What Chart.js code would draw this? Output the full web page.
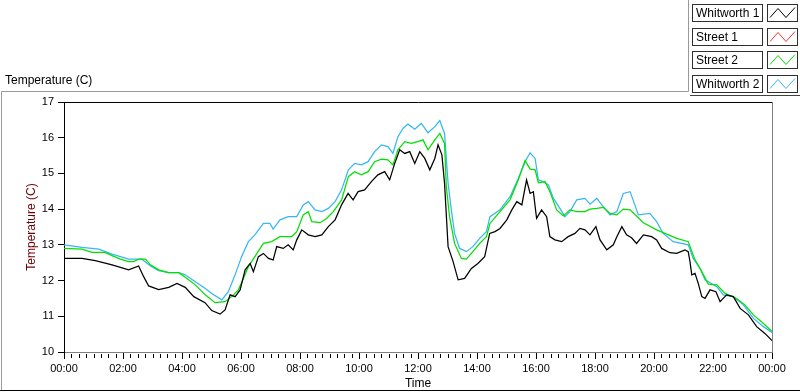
<!DOCTYPE html>
<html>
<head>
<meta charset="utf-8">
<title>Temperature (C)</title>
<script src="https://cdn.jsdelivr.net/npm/chart.js@4"></script>
<style>
  html, body { margin: 0; padding: 0; background: #fff; }
  canvas { display: block; }
</style>
</head>
<body>
<canvas id="tempChart" width="800" height="392"></canvas>
<script>
// hours since midnight and temperature (C) for each trace
const w1Hours = [0, 0.61, 1.06, 1.63, 2.19, 2.53, 2.70, 2.87, 3.21, 3.55, 3.83, 4.11, 4.40, 4.78, 5.01, 5.29, 5.46, 5.63, 5.80, 5.97,
  6.14, 6.31, 6.42, 6.59, 6.76, 6.93, 7.09, 7.21, 7.43, 7.60, 7.77, 7.89, 8.06, 8.28, 8.51, 8.74, 8.96, 9.19, 9.41, 9.63,
  9.80, 9.97, 10.19, 10.42, 10.64, 10.87, 11.04, 11.21, 11.38, 11.55, 11.72, 11.89, 12.06, 12.23, 12.40, 12.57, 12.68, 12.81, 12.90, 13.02,
  13.19, 13.36, 13.58, 13.81, 14.03, 14.26, 14.43, 14.61, 14.78, 15.01, 15.18, 15.35, 15.52, 15.68, 15.80, 15.91, 16.02, 16.19, 16.36, 16.47,
  16.64, 16.87, 17.09, 17.32, 17.49, 17.66, 17.83, 18.03, 18.17, 18.40, 18.62, 18.74, 18.91, 19.07, 19.24, 19.41, 19.64, 19.92, 20.09, 20.26,
  20.54, 20.77, 21.05, 21.16, 21.22, 21.28, 21.39, 21.50, 21.62, 21.73, 21.90, 22.10, 22.24, 22.46, 22.69, 22.92, 23.20, 23.48, 23.76, 24];
const w1Temps = [12.62, 12.62, 12.56, 12.44, 12.30, 12.41, 12.11, 11.85, 11.75, 11.81, 11.92, 11.81, 11.55, 11.38, 11.16, 11.06, 11.18, 11.60, 11.55, 11.74,
  12.30, 12.48, 12.25, 12.67, 12.76, 12.62, 12.58, 12.95, 12.90, 13.00, 12.86, 13.14, 13.42, 13.28, 13.23, 13.28, 13.51, 13.70, 14.12, 14.44,
  14.26, 14.49, 14.54, 14.77, 14.96, 15.05, 14.82, 15.28, 15.66, 15.56, 15.61, 15.28, 15.61, 15.42, 15.10, 15.42, 15.80, 15.52, 14.72, 12.95,
  12.53, 12.02, 12.06, 12.34, 12.48, 12.67, 13.32, 13.37, 13.46, 13.70, 13.98, 14.21, 14.12, 14.82, 14.44, 14.49, 13.74, 13.98, 13.79, 13.23,
  13.14, 13.09, 13.23, 13.32, 13.46, 13.42, 13.28, 13.51, 13.14, 12.86, 13.00, 13.23, 13.51, 13.28, 13.20, 13.04, 13.28, 13.23, 13.14, 12.90,
  12.78, 12.76, 12.86, 12.81, 12.53, 12.16, 12.20, 11.92, 11.55, 11.50, 11.74, 11.69, 11.41, 11.60, 11.55, 11.22, 11.04, 10.71, 10.52, 10.32];

// Street 1 has no visible trace in the graph
const s1Hours = [];
const s1Temps = [];

const s2Hours = [0, 0.61, 0.95, 1.39, 1.63, 1.91, 2.19, 2.36, 2.53, 2.76, 2.93, 3.21, 3.55, 3.89, 4.11, 4.45, 4.79, 5.12, 5.46, 5.68,
  5.91, 6.08, 6.25, 6.47, 6.76, 7.04, 7.32, 7.72, 7.89, 8.11, 8.28, 8.40, 8.68, 8.90, 9.13, 9.41, 9.64, 9.85, 10.08, 10.31,
  10.53, 10.76, 10.98, 11.15, 11.32, 11.55, 11.77, 12.00, 12.17, 12.34, 12.57, 12.74, 12.90, 12.96, 13.07, 13.24, 13.47, 13.64, 13.86, 14.09,
  14.32, 14.44, 14.78, 15.12, 15.40, 15.63, 15.80, 15.97, 16.08, 16.31, 16.47, 16.70, 16.93, 17.15, 17.38, 17.66, 17.83, 18.06, 18.28, 18.51,
  18.74, 18.96, 19.19, 19.64, 20.09, 20.43, 20.77, 21.16, 21.39, 21.62, 21.84, 22.13, 22.41, 22.80, 23.08, 23.37, 23.71, 24];
const s2Temps = [12.90, 12.88, 12.79, 12.79, 12.70, 12.60, 12.53, 12.53, 12.60, 12.60, 12.44, 12.30, 12.22, 12.22, 12.09, 11.88, 11.60, 11.38, 11.41, 11.55,
  11.74, 12.06, 12.39, 12.67, 13.04, 13.09, 13.23, 13.23, 13.37, 13.84, 13.93, 13.65, 13.62, 13.74, 13.93, 14.26, 14.91, 15.05, 14.96, 15.05,
  15.33, 15.40, 15.38, 15.24, 15.66, 15.89, 15.84, 15.89, 15.94, 15.66, 15.94, 16.12, 15.84, 14.63, 13.79, 13.04, 12.62, 12.60, 12.81, 13.04,
  13.23, 13.60, 13.93, 14.26, 14.82, 15.36, 15.12, 15.10, 14.74, 14.77, 14.49, 13.98, 13.81, 13.98, 13.93, 13.93, 14.00, 14.02, 14.05, 13.88,
  13.84, 14.00, 13.98, 13.62, 13.42, 13.30, 13.18, 13.09, 12.58, 12.25, 11.90, 11.88, 11.64, 11.50, 11.32, 11.04, 10.80, 10.58];

const w2Hours = [0, 0.61, 1.18, 1.63, 2.19, 2.64, 2.93, 3.21, 3.55, 3.89, 4.11, 4.45, 4.79, 5.01, 5.35, 5.57, 5.80, 6.02, 6.25, 6.47,
  6.76, 6.98, 7.09, 7.32, 7.60, 7.89, 8.11, 8.28, 8.51, 8.74, 8.96, 9.19, 9.41, 9.64, 9.85, 10.08, 10.31, 10.53, 10.76, 10.98,
  11.15, 11.32, 11.49, 11.66, 11.89, 12.11, 12.34, 12.57, 12.74, 12.90, 13.02, 13.13, 13.24, 13.41, 13.64, 13.86, 14.09, 14.32, 14.44, 14.78,
  15.12, 15.40, 15.63, 15.80, 15.97, 16.08, 16.25, 16.42, 16.59, 16.81, 16.98, 17.15, 17.38, 17.66, 17.83, 18.06, 18.28, 18.51, 18.74, 18.96,
  19.19, 19.47, 19.86, 20.09, 20.31, 20.65, 21.16, 21.33, 21.56, 21.73, 22.13, 22.35, 22.69, 23.03, 23.37, 23.71, 24];
const w2Temps = [13.00, 12.93, 12.88, 12.74, 12.60, 12.60, 12.41, 12.28, 12.22, 12.22, 12.16, 11.97, 11.78, 11.64, 11.46, 11.69, 12.16, 12.67, 13.09, 13.28,
  13.60, 13.60, 13.44, 13.70, 13.79, 13.79, 14.12, 14.21, 13.98, 13.93, 14.02, 14.21, 14.54, 15.10, 15.28, 15.24, 15.33, 15.61, 15.80, 15.75,
  15.56, 16.03, 16.26, 16.38, 16.24, 16.40, 16.14, 16.31, 16.48, 16.12, 14.72, 13.98, 13.32, 12.90, 12.81, 12.95, 13.18, 13.37, 13.79, 13.98,
  14.35, 14.86, 15.33, 15.58, 15.42, 14.82, 14.77, 14.68, 14.30, 14.02, 13.79, 13.93, 14.26, 14.30, 14.14, 14.30, 14.07, 13.84, 13.93, 14.44,
  14.49, 13.84, 13.88, 13.65, 13.32, 13.09, 13.00, 12.62, 12.34, 12.02, 11.83, 11.60, 11.55, 11.32, 10.94, 10.71, 10.55];

const seriesNames = ['Whitworth 1', 'Street 1', 'Street 2', 'Whitworth 2'];
const seriesColors = ['#000000', '#ff3030', '#00e000', '#38b6f4'];

const yTicks = [10, 11, 12, 13, 14, 15, 16, 17];

function toPoints(hours, temps) {
  return hours.map((h, i) => ({ x: h, y: temps[i] }));
}

const traces = [
  toPoints(w1Hours, w1Temps),
  toPoints(s1Hours, s1Temps),
  toPoints(s2Hours, s2Temps),
  toPoints(w2Hours, w2Temps)
];

const uiFont = '"Liberation Sans", Arial, sans-serif';

// panel frame, caption, minor time ticks and the plot legend
const panelDecor = {
  id: 'panelDecor',
  beforeDraw(chart) {
    const ctx = chart.ctx;
    ctx.save();
    ctx.fillStyle = '#ffffff';
    ctx.fillRect(0, 0, chart.width, chart.height);
    ctx.restore();
  },
  afterDraw(chart) {
    const { ctx, chartArea: a } = chart;
    const x = chart.scales.x;
    ctx.save();
    ctx.lineWidth = 1;

    // minor ticks every 15 minutes
    ctx.strokeStyle = '#000';
    for (let m = 15; m < 24 * 60; m += 15) {
      if (m % 120 === 0) continue;
      const px = Math.round(x.getPixelForValue(m / 60)) + 0.5;
      ctx.beginPath();
      ctx.moveTo(px, a.bottom + 2);
      ctx.lineTo(px, a.bottom + 6);
      ctx.stroke();
    }

    // plot border: top black, right gray
    const L = Math.round(a.left) + 0.5, R = Math.round(a.right) + 0.5;
    const T = Math.round(a.top) + 0.5, B = Math.round(a.bottom) + 0.5;
    ctx.strokeStyle = '#000';
    ctx.beginPath(); ctx.moveTo(L, T); ctx.lineTo(R, T); ctx.stroke();
    ctx.strokeStyle = '#808080';
    ctx.beginPath(); ctx.moveTo(R, T); ctx.lineTo(R, B); ctx.stroke();

    // outer panel lines
    ctx.strokeStyle = '#9a9a9a';
    ctx.beginPath();
    ctx.moveTo(1.5, 391); ctx.lineTo(1.5, 91.5); ctx.lineTo(688.5, 91.5); ctx.lineTo(688.5, 0);
    ctx.stroke();
    ctx.strokeStyle = '#000';
    ctx.beginPath(); ctx.moveTo(0, 390.5); ctx.lineTo(800, 390.5); ctx.stroke();
    ctx.strokeStyle = '#404040';
    ctx.beginPath(); ctx.moveTo(690, 95.5); ctx.lineTo(800, 95.5); ctx.stroke();

    // caption
    ctx.fillStyle = '#000';
    ctx.font = '12px ' + uiFont;
    ctx.textBaseline = 'middle';
    ctx.textAlign = 'left';
    ctx.fillText('Temperature (C)', 5, 81);

    // legend
    chart.data.datasets.forEach((ds, i) => {
      const top = Math.round(4 + i * 23.5) + 0.5;
      ctx.fillStyle = '#fff';
      ctx.fillRect(692, top, 70, 17);
      ctx.fillRect(767, top, 31, 17);
      ctx.strokeStyle = '#303030';
      ctx.strokeRect(692.5, top, 70, 17);
      ctx.strokeRect(767.5, top, 30, 17);
      ctx.fillStyle = '#000';
      ctx.fillText(ds.label, 696, top + 9);
      ctx.strokeStyle = ds.borderColor;
      ctx.beginPath();
      ctx.moveTo(770, top + 13);
      ctx.lineTo(778, top + 4);
      ctx.lineTo(786, top + 13);
      ctx.lineTo(795, top + 3);
      ctx.stroke();
    });
    ctx.restore();
  }
};

const ctx = document.getElementById('tempChart').getContext('2d');

const tempChart = new Chart(ctx, {
  type: 'line',
  data: {
    datasets: seriesNames.map((name, i) => ({
      label: name,
      data: traces[i],
      borderColor: seriesColors[i],
      backgroundColor: seriesColors[i],
      borderWidth: 1.25,
      pointRadius: 0,
      tension: 0,
      fill: false
    }))
  },
  options: {
    responsive: false,
    animation: false,
    devicePixelRatio: 1,
    layout: { padding: { left: 0, right: 28, top: 102, bottom: 0 } },
    plugins: {
      legend: { display: false },
      tooltip: { enabled: false }
    },
    scales: {
      x: {
        type: 'linear',
        min: 0,
        max: 24,
        afterFit: function (scale) { scale.height = 40; },
        border: { color: '#808080' },
        grid: { drawOnChartArea: false, tickLength: 7, tickColor: '#000' },
        ticks: {
          stepSize: 2,
          autoSkip: false,
          maxRotation: 0,
          padding: 3,
          color: '#000',
          font: { family: uiFont, size: 11 },
          callback: function (value) {
            const h = value % 24;
            return String(h).padStart(2, '0') + ':00';
          }
        },
        title: {
          display: true,
          text: 'Time',
          color: '#000',
          padding: { top: 0, bottom: 1 },
          font: { family: uiFont, size: 12 }
        }
      },
      y: {
        min: yTicks[0],
        max: yTicks[yTicks.length - 1],
        afterFit: function (scale) { scale.width = 64; },
        afterBuildTicks: function (scale) {
          scale.ticks = yTicks.map(v => ({ value: v }));
        },
        border: { color: '#000' },
        grid: { drawOnChartArea: false, tickLength: 6, tickColor: '#000' },
        ticks: {
          padding: 4,
          color: '#000',
          font: { family: uiFont, size: 11 }
        },
        title: {
          display: true,
          text: 'Temperature (C)',
          color: '#6a0000',
          padding: { top: 24, bottom: 0 },
          font: { family: uiFont, size: 12 }
        }
      }
    }
  },
  plugins: [panelDecor]
});
</script>
</body>
</html>
